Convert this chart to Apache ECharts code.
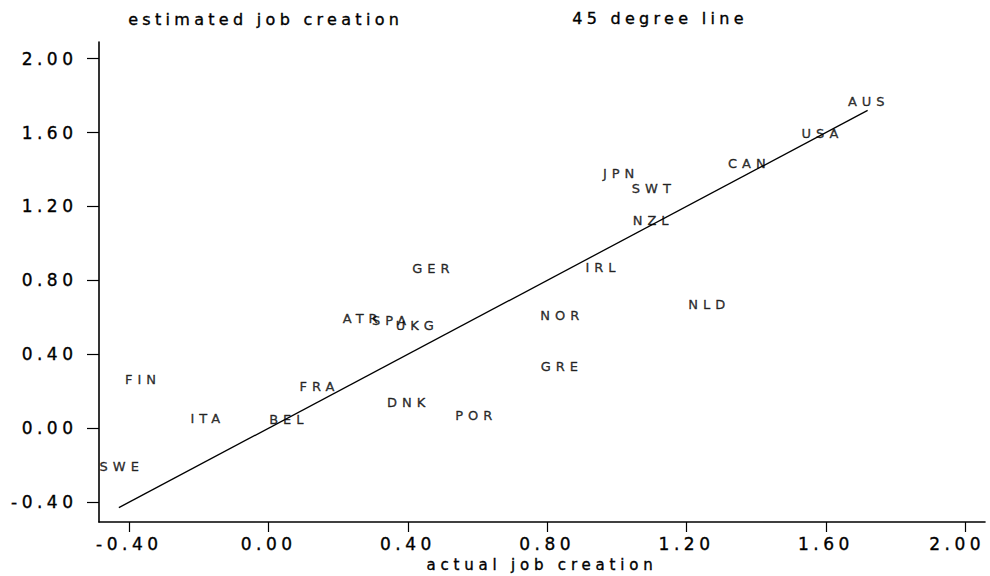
<!DOCTYPE html>
<html>
<head>
<meta charset="utf-8">
<script src="https://cdn.jsdelivr.net/npm/echarts@6/dist/echarts.min.js"></script>
<style>
  html, body { margin: 0; padding: 0; background: #fff; }
  #chart { width: 990px; height: 576px; }
  /* wide, plotter-style lettering */
  #chart svg text { letter-spacing: 5px; }
</style>
</head>
<body>
<div id="chart"></div>
<script>
// Country codes with actual vs. estimated job creation
const countries = ['AUS','USA','CAN','JPN','SWT','NZL','IRL','GER','NLD','NOR','ATR',
                   'SPA','UKG','GRE','FIN','FRA','DNK','ITA','BEL','POR','SWE'];
const actualJobs = [1.716, 1.583, 1.373, 1.005, 1.099, 1.097, 0.953, 0.466, 1.258, 0.836, 0.263,
                    0.346, 0.420, 0.835, -0.368, 0.139, 0.395, -0.182, 0.051, 0.589, -0.429];
const estimatedJobs = [1.770, 1.597, 1.432, 1.378, 1.296, 1.125, 0.872, 0.863, 0.670, 0.607, 0.593,
                       0.583, 0.556, 0.334, 0.263, 0.228, 0.141, 0.051, 0.048, 0.069, -0.207];

// Ends of the 45 degree reference line
const lineEnds = [-0.43, 1.72];

// Tick values for both axes
const xTicks = [-0.40, 0.00, 0.40, 0.80, 1.20, 1.60, 2.00];
const yTicks = [-0.40, 0.00, 0.40, 0.80, 1.20, 1.60, 2.00];

const FONT = 'DejaVu Sans';
const INK = '#000';
const STROKE = 0.35;   // slight extra weight for the pen-drawn look

// letter spacing per font size (px)
const SPACING = { '17px': '4.5px', '16px': '4.3px', '15px': '4.8px', '13px': '5px' };

const points = countries.map((c, i) => [actualJobs[i], estimatedJobs[i], c]);
const diagonal = lineEnds.map(v => [v, v]);
const lastX = xTicks[xTicks.length - 1];

const chart = echarts.init(document.getElementById('chart'), null, { renderer: 'svg' });

chart.setOption({
  animation: false,
  backgroundColor: '#fff',
  grid: { left: 99, right: 5, top: 42, bottom: 54, outerBoundsMode: 'none' },
  graphic: [
    { type: 'text', left: 128, top: 11,
      style: { text: 'estimated job creation', font: '16px "' + FONT + '"', fill: INK,
               stroke: INK, lineWidth: STROKE } },
    { type: 'text', left: 572, top: 10,
      style: { text: '45 degree line', font: '16px "' + FONT + '"', fill: INK,
               stroke: INK, lineWidth: STROKE } }
  ],
  xAxis: {
    type: 'value',
    min: -0.487, max: 2.057,
    name: 'actual job creation',
    nameLocation: 'middle',
    nameGap: 32,
    nameTextStyle: { color: INK, fontSize: 15, fontFamily: FONT,
                     textBorderColor: INK, textBorderWidth: STROKE },
    axisLine: { show: true, onZero: false, lineStyle: { color: INK, width: 1.6 } },
    axisTick: { show: true, length: 10, customValues: xTicks, lineStyle: { color: INK, width: 1.2 } },
    axisLabel: {
      customValues: xTicks, margin: 13, color: INK, fontSize: 17, fontFamily: FONT,
      textBorderColor: INK, textBorderWidth: STROKE,
      formatter: v => (v === lastX ? '{last|' + v.toFixed(2) + '}' : v.toFixed(2)),
      rich: {
        last: { color: INK, fontSize: 17, fontFamily: FONT, padding: [0, 16, 0, 0],
                textBorderColor: INK, textBorderWidth: STROKE }
      }
    },
    splitLine: { show: false }
  },
  yAxis: {
    type: 'value',
    min: -0.508, max: 2.09,
    axisLine: { show: true, onZero: false, lineStyle: { color: INK, width: 1.6 } },
    axisTick: { show: true, length: 12, customValues: yTicks, lineStyle: { color: INK, width: 1.2 } },
    axisLabel: { customValues: yTicks, margin: 21.5, color: INK, fontSize: 17, fontFamily: FONT,
                 textBorderColor: INK, textBorderWidth: STROKE,
                 formatter: v => v.toFixed(2) },
    splitLine: { show: false }
  },
  series: [
    {
      type: 'line',
      data: diagonal,
      symbol: 'none',
      silent: true,
      lineStyle: { color: INK, width: 1.3 }
    },
    {
      type: 'scatter',
      data: points,
      symbolSize: 1,
      silent: true,
      itemStyle: { color: 'rgba(0,0,0,0)' },
      label: {
        show: true,
        position: 'inside',
        offset: [2.5, 0],
        formatter: p => p.data[2],
        color: INK,
        fontSize: 13,
        fontFamily: FONT,
        textBorderColor: INK,
        textBorderWidth: STROKE
      },
      emphasis: { disabled: true }
    }
  ]
});

// apply the spacing that suits each text size
document.querySelectorAll('#chart svg text').forEach(t => {
  const size = getComputedStyle(t).fontSize;
  if (SPACING[size]) t.style.letterSpacing = SPACING[size];
});
</script>
</body>
</html>
